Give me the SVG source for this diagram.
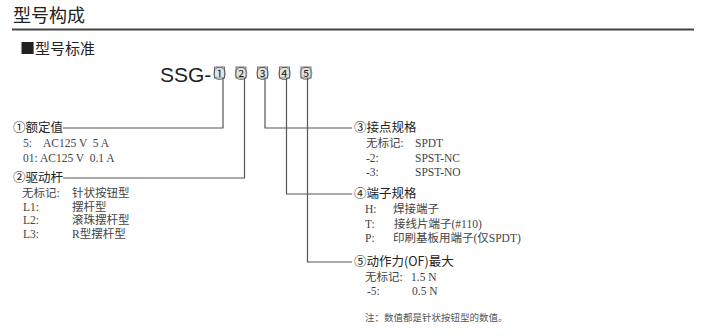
<svg xmlns="http://www.w3.org/2000/svg" width="701" height="336" viewBox="0 0 701 336">
<style>
.h1{font-family:"Noto Sans CJK SC","Liberation Sans",sans-serif;font-size:18px;fill:#222}
.h2{font-family:"Noto Sans CJK SC","Liberation Sans",sans-serif;font-size:15px;fill:#222}
.code{font-family:"Liberation Sans",Arial,sans-serif;font-size:21px;fill:#222}
.lab{font-family:"Noto Sans CJK SC","Liberation Sans",sans-serif;font-size:12.5px;fill:#222}
.body{font-family:"Liberation Serif","Noto Sans CJK SC",serif;font-size:11.5px;fill:#444;white-space:pre}
.note{font-family:"Liberation Serif","Noto Sans CJK SC",serif;font-size:9.5px;fill:#555}
.box rect{fill:#e2e2e2;stroke:#777;stroke-width:1}
.box text{font-family:"Noto Sans CJK SC","DejaVu Sans",sans-serif;font-size:13px;fill:#222;text-anchor:middle}
.conn{fill:none;stroke:#555;stroke-width:1.2}
</style>
<rect width="701" height="336" fill="#fff"/>
<g id="header">
<text class="h1" x="13" y="22">型号构成</text>
<line x1="12" y1="29.5" x2="694" y2="29.5" stroke="#444" stroke-width="2"/>
<text class="h2" x="20" y="54">■型号标准</text>
</g>
<g id="code">
<text class="code" x="160" y="82">SSG-</text>
<g class="box"><rect x="214.5" y="67" width="10" height="11"/><text x="219.5" y="77.5">①</text></g>
<g class="box"><rect x="236" y="67" width="10" height="11"/><text x="241" y="77.5">②</text></g>
<g class="box"><rect x="257.5" y="67" width="10" height="11"/><text x="262.5" y="77.5">③</text></g>
<g class="box"><rect x="279.5" y="67" width="10" height="11"/><text x="284.5" y="77.5">④</text></g>
<g class="box"><rect x="301" y="67" width="10" height="11"/><text x="306" y="77.5">⑤</text></g>
</g>
<g id="connectors">
<polyline class="conn" points="223,78 223,128 63,128"/>
<polyline class="conn" points="244.5,78 244.5,178 63,178"/>
<polyline class="conn" points="265,78 265,128 352,128"/>
<polyline class="conn" points="286.5,78 286.5,194 352,194"/>
<polyline class="conn" points="307.5,78 307.5,262 352,262"/>
</g>
<g id="n1">
<text class="lab" x="13" y="132">①额定值</text>
<text class="body" x="23" y="147">5:</text><text class="body" x="43" y="147">AC125 V  5 A</text>
<text class="body" x="23" y="162">01: AC125 V  0.1 A</text>
</g>
<g id="n2">
<text class="lab" x="13" y="182">②驱动杆</text>
<text class="body" x="22" y="197">无标记:</text><text class="body" x="72" y="197">针状按钮型</text>
<text class="body" x="23" y="211">L1:</text><text class="body" x="72" y="211">摆杆型</text>
<text class="body" x="23" y="224">L2:</text><text class="body" x="72" y="224">滚珠摆杆型</text>
<text class="body" x="23" y="238">L3:</text><text class="body" x="72" y="238">R型摆杆型</text>
</g>
<g id="n3">
<text class="lab" x="354" y="132">③接点规格</text>
<text class="body" x="366" y="147">无标记:</text><text class="body" x="415" y="147">SPDT</text>
<text class="body" x="366" y="162">-2:</text><text class="body" x="415" y="162">SPST-NC</text>
<text class="body" x="366" y="176">-3:</text><text class="body" x="415" y="176">SPST-NO</text>
</g>
<g id="n4">
<text class="lab" x="354" y="198">④端子规格</text>
<text class="body" x="365" y="213">H:</text><text class="body" x="393" y="213">焊接端子</text>
<text class="body" x="365" y="228">T:</text><text class="body" x="394" y="228">接线片端子(#110)</text>
<text class="body" x="365" y="242">P:</text><text class="body" x="393" y="242">印刷基板用端子(仅SPDT)</text>
</g>
<g id="n5">
<text class="lab" x="354" y="266">⑤动作力(OF)最大</text>
<text class="body" x="365" y="281">无标记:</text><text class="body" x="411" y="281">1.5 N</text>
<text class="body" x="367" y="295">-5:</text><text class="body" x="412" y="295">0.5 N</text>
<text class="note" x="365" y="321">注：数值都是针状按钮型的数值。</text>
</g>
</svg>
